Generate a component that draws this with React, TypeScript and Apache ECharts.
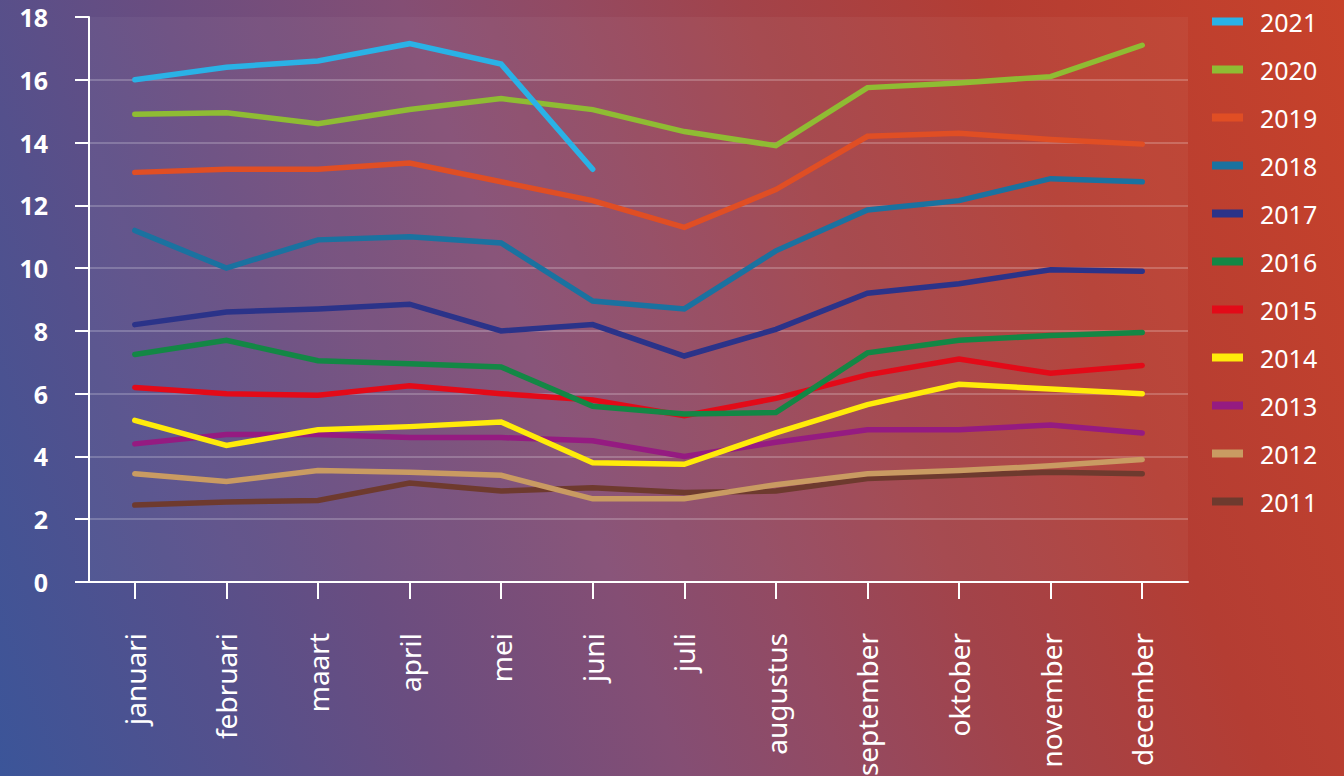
import React, { useEffect, useRef } from "react";
import * as echarts from "echarts";

const months = [
  "januari", "februari", "maart", "april", "mei", "juni",
  "juli", "augustus", "september", "oktober", "november", "december",
];

const yTicks = { min: 0, max: 18, interval: 2 };

const legendOrder = ["2021", "2020", "2019", "2018", "2017", "2016", "2015", "2014", "2013", "2012", "2011"];

const v2021 = [16.0, 16.4, 16.6, 17.15, 16.5, 13.15, null, null, null, null, null, null];
const v2020 = [14.9, 14.95, 14.6, 15.05, 15.4, 15.05, 14.35, 13.9, 15.75, 15.9, 16.1, 17.1];
const v2019 = [13.05, 13.15, 13.15, 13.35, 12.75, 12.15, 11.3, 12.5, 14.2, 14.3, 14.1, 13.95];
const v2018 = [11.2, 10.0, 10.9, 11.0, 10.8, 8.95, 8.7, 10.55, 11.85, 12.15, 12.85, 12.75];
const v2017 = [8.2, 8.6, 8.7, 8.85, 8.0, 8.2, 7.2, 8.05, 9.2, 9.5, 9.95, 9.9];
const v2016 = [7.25, 7.7, 7.05, 6.95, 6.85, 5.6, 5.35, 5.4, 7.3, 7.7, 7.85, 7.95];
const v2015 = [6.2, 6.0, 5.95, 6.25, 6.0, 5.8, 5.3, 5.85, 6.6, 7.1, 6.65, 6.9];
const v2014 = [5.15, 4.35, 4.85, 4.95, 5.1, 3.8, 3.75, 4.75, 5.65, 6.3, 6.15, 6.0];
const v2013 = [4.4, 4.7, 4.7, 4.6, 4.6, 4.5, 4.0, 4.45, 4.85, 4.85, 5.0, 4.75];
const v2012 = [3.45, 3.2, 3.55, 3.5, 3.4, 2.65, 2.65, 3.1, 3.45, 3.55, 3.7, 3.9];
const v2011 = [2.45, 2.55, 2.6, 3.15, 2.9, 3.0, 2.85, 2.9, 3.3, 3.4, 3.5, 3.45];

const seriesList: { name: string; color: string; data: (number | null)[] }[] = [
  { name: "2011", color: "#6e3a2e", data: v2011 },
  { name: "2012", color: "#c99b62", data: v2012 },
  { name: "2013", color: "#951b81", data: v2013 },
  { name: "2014", color: "#ffeb0a", data: v2014 },
  { name: "2015", color: "#e30a18", data: v2015 },
  { name: "2016", color: "#138745", data: v2016 },
  { name: "2017", color: "#2b3389", data: v2017 },
  { name: "2018", color: "#1a72a0", data: v2018 },
  { name: "2019", color: "#e04e24", data: v2019 },
  { name: "2020", color: "#8fbc33", data: v2020 },
  { name: "2021", color: "#2ab2e6", data: v2021 },
];

const FONT = "'Noto Sans', sans-serif";

export default function App() {
  const ref = useRef<HTMLDivElement>(null);

  useEffect(() => {
    if (!ref.current) return;
    const chart = echarts.init(ref.current, null, { renderer: "svg" });
    chart.setOption({
      animation: false,
      backgroundColor: "transparent",
      textStyle: { fontFamily: FONT },
      grid: {
        left: 89,
        right: 156,
        top: 17,
        bottom: 194,
        show: true,
        borderWidth: 0,
        containLabel: false,
        outerBoundsMode: "none",
        backgroundColor: "rgba(255,255,255,0.045)",
      },
      legend: {
        orient: "vertical",
        left: 1207,
        top: 4,
        icon: "rect",
        itemWidth: 31,
        itemHeight: 8,
        itemGap: 23,
        data: legendOrder,
        selectedMode: false,
        textStyle: {
          color: "#ffffff",
          fontSize: 25,
          lineHeight: 25,
          fontFamily: FONT,
          padding: [0, 0, 0, 12],
        },
      },
      xAxis: {
        type: "category",
        data: months,
        boundaryGap: true,
        axisLine: { show: true, lineStyle: { color: "#ffffff", width: 2 } },
        axisTick: { show: true, alignWithLabel: true, length: 17, lineStyle: { color: "#ffffff", width: 2 } },
        axisLabel: {
          rotate: 90,
          margin: 51,
          color: "#ffffff",
          fontSize: 28,
          fontFamily: FONT,
          interval: 0,
        },
        splitLine: { show: false },
      },
      yAxis: {
        type: "value",
        min: yTicks.min,
        max: yTicks.max,
        interval: yTicks.interval,
        axisLine: { show: true, lineStyle: { color: "#ffffff", width: 2 } },
        axisTick: { show: true, length: 14, lineStyle: { color: "#ffffff", width: 2 } },
        axisLabel: {
          margin: 41,
          color: "#ffffff",
          fontSize: 25,
          fontWeight: "bold",
          fontFamily: FONT,
        },
        splitLine: {
          show: true,
          showMinLine: false,
          showMaxLine: false,
          lineStyle: { color: "rgba(255,255,255,0.28)", width: 1.5 },
        },
      },
      series: seriesList.map((s) => ({
        name: s.name,
        type: "line",
        data: s.data,
        color: s.color,
        showSymbol: false,
        symbol: "none",
        silent: true,
        connectNulls: false,
        lineStyle: { color: s.color, width: 5.5, cap: "round", join: "miter" },
        itemStyle: { color: s.color },
        emphasis: { disabled: true },
      })),
    });
    return () => chart.dispose();
  }, []);

  return (
    <div
      style={{
        position: "fixed",
        left: 0,
        top: 0,
        width: 1344,
        height: 776,
        background:
          "linear-gradient(70deg, #3b5599 0%, #54508c 15%, #6a4d80 27%, #844e74 42%, #934a62 52%, #a2434a 63%, #b43d33 78%, #c8422a 100%)",
      }}
    >
      <div ref={ref} style={{ width: 1344, height: 776 }} />
    </div>
  );
}
